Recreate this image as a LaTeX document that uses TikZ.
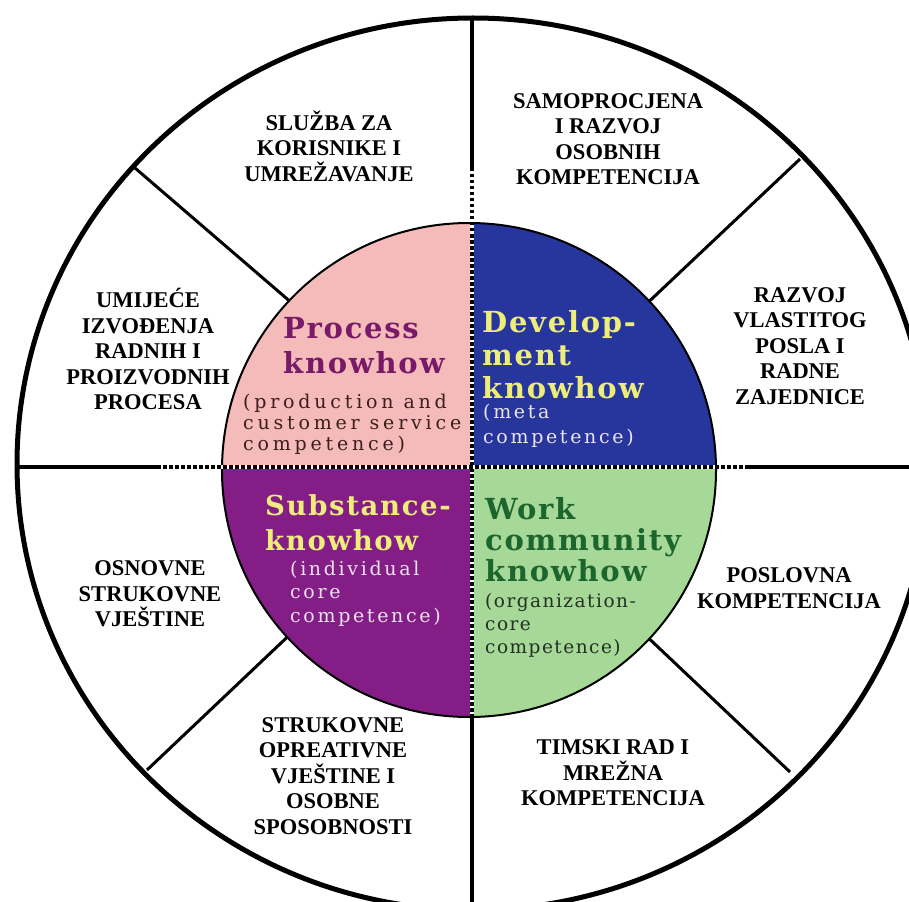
\documentclass[tikz,border=0pt]{standalone}
\usepackage{fontspec}
\setmainfont{Liberation Serif}
\newfontfamily\titlefont[LetterSpace=6]{DejaVu Serif}
\newfontfamily\subfont[LetterSpace=20]{DejaVu Serif}
\newfontfamily\narrowsubfont[LetterSpace=14]{DejaVu Serif}
\newfontfamily\orgfont[LetterSpace=8]{DejaVu Serif}
\definecolor{pinkq}{RGB}{245,186,186}
\definecolor{blueq}{RGB}{38,54,156}
\definecolor{purpleq}{RGB}{132,30,134}
\definecolor{greenq}{RGB}{166,216,152}
\definecolor{processcol}{RGB}{120,26,104}
\definecolor{yellowtxt}{RGB}{238,236,122}
\definecolor{greentxt}{RGB}{28,102,46}
\definecolor{lighttxt}{RGB}{236,226,240}
\definecolor{darktxt}{RGB}{60,30,30}
\definecolor{darkgreentxt}{RGB}{36,48,36}
\tikzset{
  outerlabel/.style={font=\bfseries\fontsize{22.5}{25.5}\selectfont, align=center, inner sep=0pt, text=black},
  titletext/.style={font=\titlefont\bfseries\fontsize{29}{#1}\selectfont, anchor=base west, inner sep=0pt},
  narrowtitle/.style={font=\titlefont\bfseries\fontsize{27.5}{#1}\selectfont, anchor=base west, inner sep=0pt},
  subtext/.style={font=\subfont\fontsize{19}{#1}\selectfont, anchor=base west, inner sep=0pt},
  narrowsub/.style={font=\narrowsubfont\fontsize{19}{#1}\selectfont, anchor=base west, inner sep=0pt},
  orgtext/.style={font=\orgfont\fontsize{18.5}{#1}\selectfont, anchor=base west, inner sep=0pt},
  spoke/.style={line width=3pt, black},
  axisline/.style={line width=3.5pt, black},
  dotunder/.style={line width=4pt, white},
  dotover/.style={line width=4pt, black, dash pattern=on 3.5pt off 2.5pt}
}
\begin{document}
\begin{tikzpicture}[x=1pt,y=-1pt]
\useasboundingbox (0,0) rectangle (909,901);
\fill[white] (0,0) rectangle (909,901);
\clip (0,0) rectangle (909,901);
% centres
\coordinate (O) at (473,464);
\coordinate (I) at (469,470);
\coordinate (X) at (472,467);
% axis end points
\coordinate (top) at (472,18);
\coordinate (bot) at (472,915);
\coordinate (lft) at (17,467);
\coordinate (rgt) at (935,467);
% spoke end points
\coordinate (ulo) at (135,168);  \coordinate (uli) at (300,310);
\coordinate (uro) at (800,159);  \coordinate (uri) at (640,310);
\coordinate (llo) at (147,770);  \coordinate (lli) at (300,625);
\coordinate (lro) at (790,772);  \coordinate (lri) at (640,630);
% dotted extents
\coordinate (vd1) at (472,168);
\coordinate (vd2) at (472,716);
\coordinate (hd1) at (157,467);
\coordinate (hd2) at (748,467);
% spokes and axes
\draw[spoke] (ulo) -- (uli);
\draw[spoke] (uro) -- (uri);
\draw[spoke] (llo) -- (lli);
\draw[spoke] (lro) -- (lri);
\draw[axisline] (top) -- (bot);
\draw[axisline] (lft) -- (rgt);
% inner quadrants
\begin{scope}
  \clip (I) circle [radius=247];
  \fill[pinkq]   (X) rectangle ++(-300,-300);
  \fill[blueq]   (X) rectangle ++(300,-300);
  \fill[purpleq] (X) rectangle ++(-300,300);
  \fill[greenq]  (X) rectangle ++(300,300);
\end{scope}
\draw[line width=2pt] (I) circle [radius=247];
% dotted dividers
\draw[dotunder] (vd1) -- (vd2);
\draw[dotover]  (vd1) -- (vd2);
\draw[dotunder] (hd1) -- (hd2);
\draw[dotover]  (hd1) -- (hd2);
% outer ring
\draw[line width=5pt] (O) ellipse [x radius=456, y radius=446];
% outer labels
\node[outerlabel] (l1) at (329,146) {SLUŽBA ZA\\KORISNIKE I\\UMREŽAVANJE};
\node[outerlabel] (l2) at (608,139) {SAMOPROCJENA\\I RAZVOJ\\OSOBNIH\\KOMPETENCIJA};
\node[outerlabel] (l3) at (148,349) {UMIJEĆE\\IZVOĐENJA\\RADNIH I\\PROIZVODNIH\\PROCESA};
\node[outerlabel] (l4) at (800,346) {RAZVOJ\\VLASTITOG\\POSLA I\\RADNE\\ZAJEDNICE};
\node[outerlabel] (l5) at (150,594) {OSNOVNE\\STRUKOVNE\\VJEŠTINE};
\node[outerlabel] (l6) at (789,588) {POSLOVNA\\KOMPETENCIJA};
\node[outerlabel] (l7) at (333,776) {STRUKOVNE\\OPREATIVNE\\VJEŠTINE I\\OSOBNE\\SPOSOBNOSTI};
\node[outerlabel] (l8) at (613,773) {TIMSKI RAD I\\MREŽNA\\KOMPETENCIJA};
% inner titles
\node[titletext=35, text=processcol] (t1) at (283,338) {\vtop{\hbox{Process}\hbox{knowhow}}};
\node[subtext=21, text=darktxt] (s1) at (243,408) {\vtop{\hbox{(production and}\hbox{customer service}\hbox{competence)}}};
\node[titletext=33, text=yellowtxt] (t2) at (482,332) {\vtop{\hbox{Develop-}\hbox{ment}\hbox{knowhow}}};
\node[narrowsub=25, text=lighttxt] (s2) at (483,418) {\vtop{\hbox{(meta}\hbox{competence)}}};
\node[narrowtitle=35, text=yellowtxt] (t3) at (265,515) {\vtop{\hbox{Substance-}\hbox{knowhow}}};
\node[narrowsub=23.5, text=lighttxt] (s3) at (290,575) {\vtop{\hbox{(individual}\hbox{core}\hbox{competence)}}};
\node[titletext=31, text=greentxt] (t4) at (485,519) {\vtop{\hbox{Work}\hbox{community}\hbox{knowhow}}};
\node[orgtext=23, text=darkgreentxt] (s4) at (485,607) {\vtop{\hbox{(organization-}\hbox{core}\hbox{competence)}}};
\end{tikzpicture}
\end{document}
